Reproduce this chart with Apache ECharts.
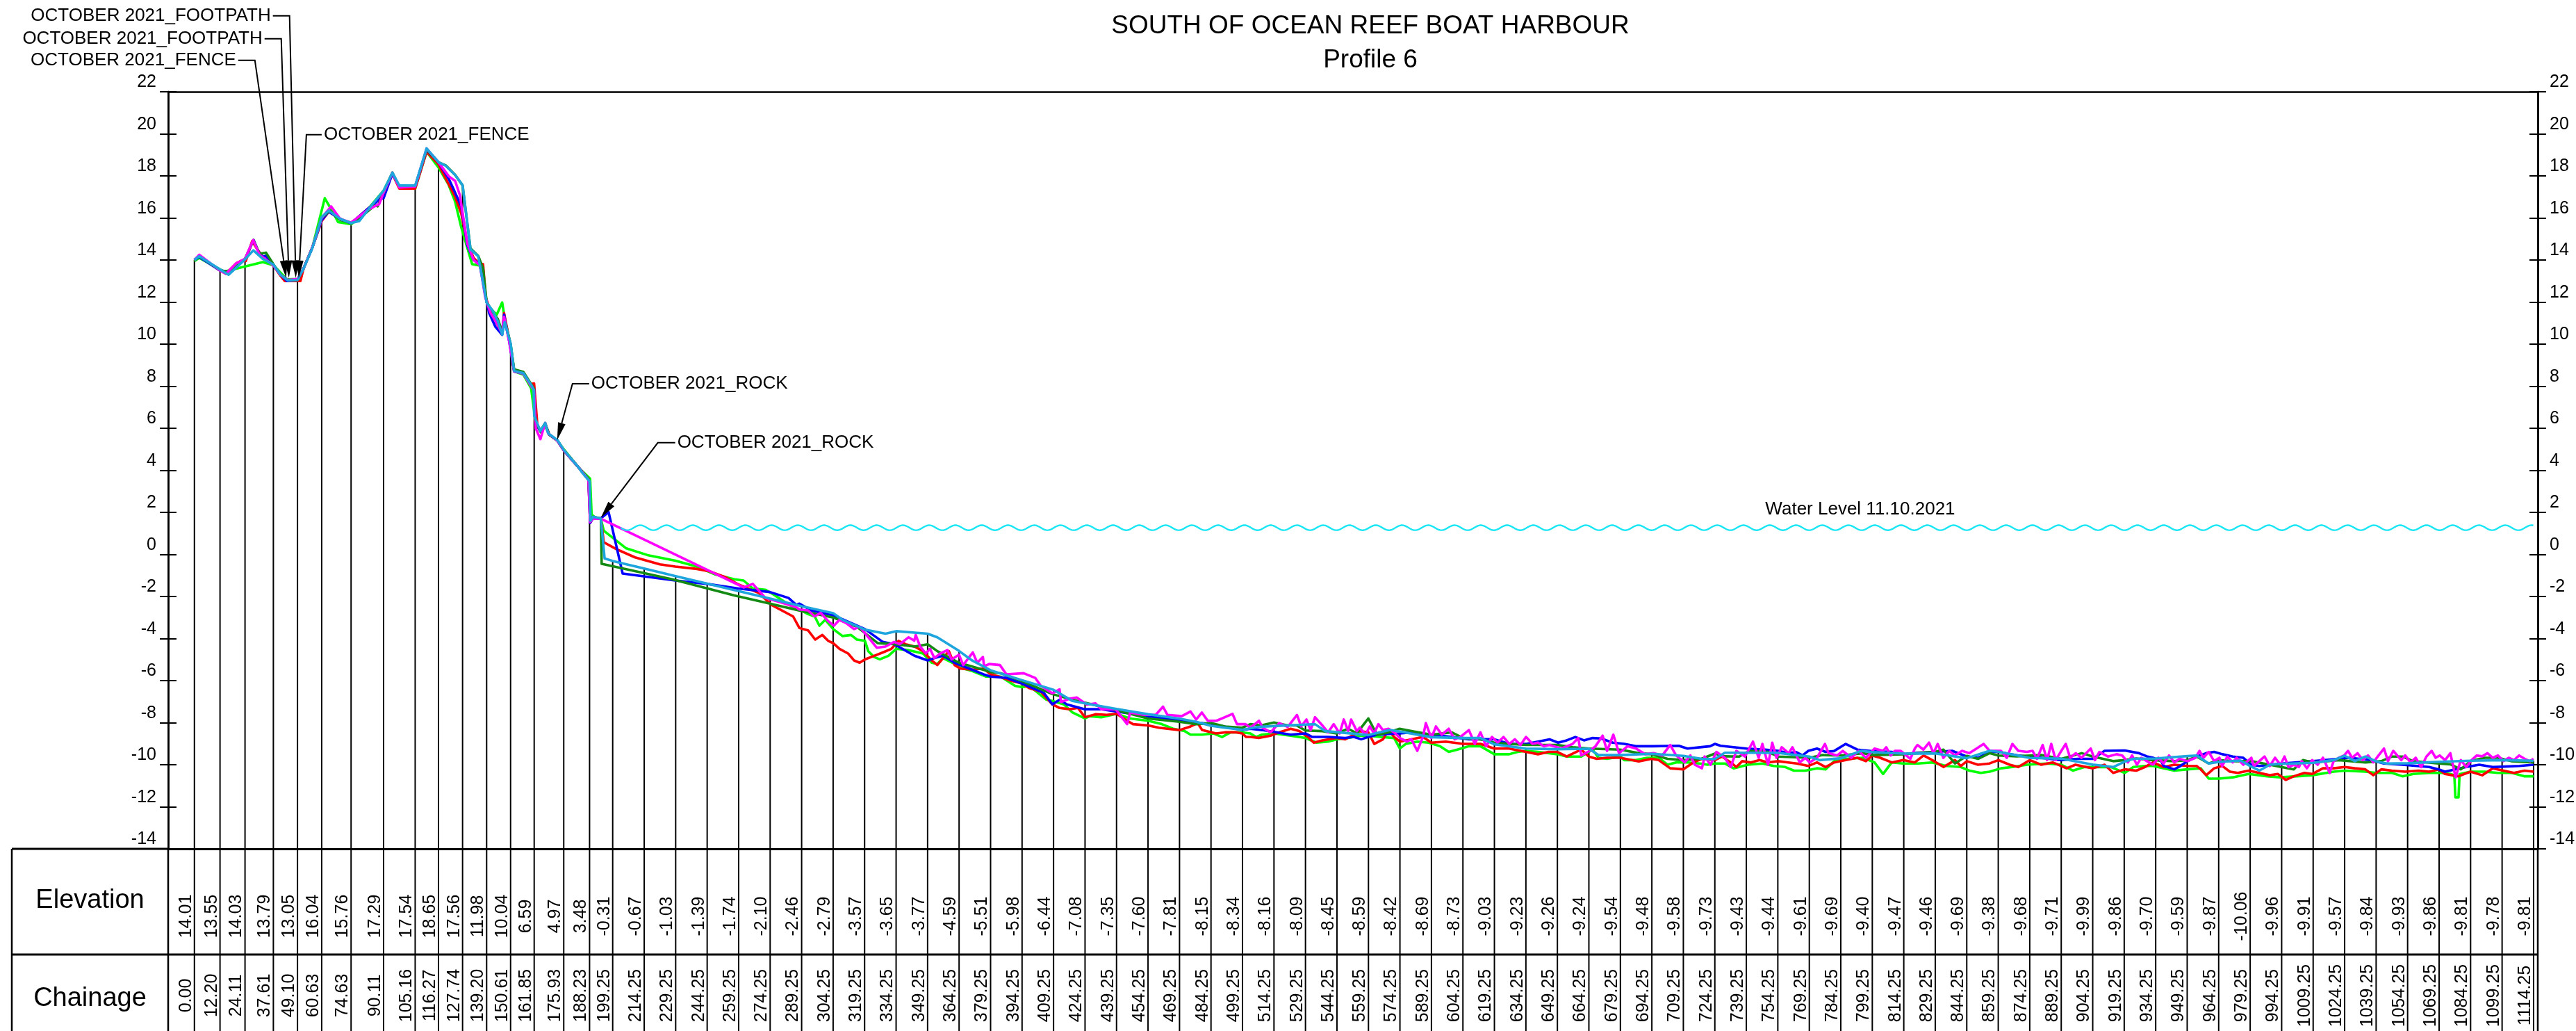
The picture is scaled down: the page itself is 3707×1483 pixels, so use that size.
<!DOCTYPE html>
<html><head><meta charset="utf-8">
<script src="https://cdn.jsdelivr.net/npm/echarts/dist/echarts.min.js"></script>
<style>html,body{margin:0;padding:0;background:#fff}#c{width:3707px;height:1483px}</style>
</head><body><div id="c"></div>
<script>
const FONT = "'Liberation Sans', Arial, Helvetica, sans-serif";
const titleText = 'SOUTH OF OCEAN REEF BOAT HARBOUR';
const subtitleText = 'Profile 6';
const rowLabels = ['Elevation', 'Chainage'];

const stationChainage = [0.00,12.20,24.11,37.61,49.10,60.63,74.63,90.11,105.16,116.27,127.74,139.20,150.61,161.85,175.93,188.23,
199.25,214.25,229.25,244.25,259.25,274.25,289.25,304.25,319.25,334.25,349.25,364.25,379.25,394.25,409.25,424.25,439.25,454.25,469.25,484.25,499.25,
514.25,529.25,544.25,559.25,574.25,589.25,604.25,619.25,634.25,649.25,664.25,679.25,694.25,709.25,724.25,739.25,754.25,769.25,784.25,799.25,
814.25,829.25,844.25,859.25,874.25,889.25,904.25,919.25,934.25,949.25,964.25,979.25,994.25,1009.25,1024.25,1039.25,1054.25,1069.25,1084.25,1099.25,1114.25];
const stationElevation = [14.01,13.55,14.03,13.79,13.05,16.04,15.76,17.29,17.54,18.65,17.56,11.98,10.04,6.59,4.97,3.48,
-0.31,-0.67,-1.03,-1.39,-1.74,-2.10,-2.46,-2.79,-3.57,-3.65,-3.77,-4.59,-5.51,-5.98,-6.44,-7.08,-7.35,-7.60,-7.81,-8.15,-8.34,
-8.16,-8.09,-8.45,-8.59,-8.42,-8.69,-8.73,-9.03,-9.23,-9.26,-9.24,-9.54,-9.48,-9.58,-9.73,-9.43,-9.44,-9.61,-9.69,-9.40,
-9.47,-9.46,-9.69,-9.38,-9.68,-9.71,-9.99,-9.86,-9.70,-9.59,-9.87,-10.06,-9.96,-9.91,-9.57,-9.84,-9.93,-9.86,-9.81,-9.78,-9.81];

const surveyLightBlue = [[0,14.01],[2.3,14.18],[12.2,13.55],[16.3,13.3],[24.11,14.03],[28.1,14.46],[32.6,14.05],[37.61,13.79],[41,13.3],[44.5,13.03],[49.1,13.05],[52,13.6],[56.2,14.57],[60.63,16.04],[64,16.35],[69.5,15.95],[74.63,15.76],[78.5,15.85],[82.8,16.4],[90.11,17.29],[94.3,18.15],[97.6,17.54],[105.16,17.54],[110.6,19.31],[116.27,18.65],[119.7,18.48],[124.2,18.04],[127.74,17.56],[131.5,14.51],[135.2,14.18],[139.2,11.98],[142,11.6],[144.5,11.1],[146.6,10.45],[147.8,11.04],[150.61,10.04],[152.3,8.73],[156.7,8.62],[160.4,8.07],[161.6,7.85],[161.85,6.59],[164.8,5.87],[167.1,6.25],[168.5,5.76],[173,5.43],[175.93,4.97],[183.3,4.1],[184.8,3.88],[188.23,3.48],[188.7,1.6],[190,1.79],[193.6,1.7],[195.4,-0.19],[199.25,-0.31],[214.25,-0.67],[229.25,-1.03],[244.25,-1.39],[259.25,-1.74],[274.25,-2.10],[289.25,-2.46],[304.25,-2.79],[308.7,-3.11],[319.25,-3.57],[329.2,-3.77],[334.25,-3.65],[349.25,-3.77],[353.9,-3.94],[364.25,-4.59],[370.4,-5.04],[379.25,-5.51],[394.25,-5.98],[409.25,-6.44],[418.3,-6.97],[424.25,-7.08],[439.25,-7.35],[454.25,-7.60],[469.25,-7.81],[477.2,-7.96],[484.25,-8.15],[490.9,-8.24],[499.25,-8.34],[507,-8.2],[514.25,-8.16],[529.25,-8.09],[533.8,-8.07],[538.6,-8.40],[544.25,-8.45],[559.25,-8.59],[569.5,-8.35],[574.25,-8.42],[589.25,-8.69],[604.25,-8.73],[612.6,-8.73],[619.25,-9.03],[634.25,-9.23],[649.25,-9.26],[664.25,-9.24],[668.8,-9.54],[679.25,-9.54],[694.25,-9.48],[709.25,-9.58],[718,-9.72],[724.25,-9.73],[729,-9.43],[739.25,-9.43],[754.25,-9.44],[769.25,-9.61],[774.2,-9.78],[784.25,-9.69],[794.1,-9.34],[799.25,-9.40],[814.25,-9.47],[829.25,-9.46],[844.25,-9.69],[855.1,-9.34],[859.25,-9.38],[874.25,-9.68],[889.25,-9.71],[904.25,-9.99],[914,-10.11],[919.25,-9.86],[923.5,-9.72],[934.25,-9.70],[949.25,-9.59],[953.8,-9.56],[959.5,-9.94],[964.25,-9.87],[974.7,-9.8],[979.25,-10.06],[983.6,-10.28],[988.6,-10.0],[994.25,-9.96],[1009.25,-9.91],[1019,-9.78],[1024.25,-9.57],[1029.1,-9.83],[1034.1,-9.61],[1039.25,-9.84],[1044.2,-9.94],[1054.25,-9.93],[1069.25,-9.86],[1084.25,-9.81],[1099.25,-9.78],[1114.25,-9.81]];

const surveyBlue = [[0,14.0],[2.3,14.15],[12.2,13.5],[16,13.45],[24.11,14.05],[28.2,14.95],[30.5,14.4],[32.6,14.15],[34,14.2],[37.61,13.75],[41,13.3],[44.1,13.0],[49.1,13.05],[52,13.6],[56.2,14.6],[60.63,15.9],[64,16.3],[69.5,15.95],[74.63,15.75],[82.8,16.45],[88.5,16.9],[90.11,16.94],[94.3,18.1],[97.6,17.5],[105.16,17.5],[110.6,19.25],[116.27,18.65],[121.2,17.85],[123.4,17.38],[127.1,16.55],[130,14.7],[133,14.0],[136,13.8],[138.6,12.3],[140.4,11.48],[143.4,10.82],[146.6,10.44],[147.5,11.4],[150,10.1],[152.3,8.7],[156.7,8.6],[160.4,8.05],[161.8,7.85],[162.6,6.2],[165,5.85],[167.1,6.2],[169,5.7],[173,5.4],[175.93,4.95],[183.3,4.1],[187.7,3.55],[188.5,1.5],[190,1.75],[193.6,1.72],[197.3,2.01],[204,-0.91],[229.1,-1.24],[244.2,-1.4],[259.1,-1.62],[274.2,-1.79],[283,-2.07],[286.7,-2.4],[288.2,-2.34],[294,-2.67],[304.3,-2.89],[319.4,-3.55],[327.9,-4.16],[333.4,-4.27],[343,-4.82],[349.3,-5.04],[352.5,-4.93],[356.6,-4.82],[362.1,-5.15],[370.4,-5.48],[375.9,-5.7],[379.3,-5.81],[386.8,-5.87],[394.3,-6.14],[404.6,-6.58],[408.7,-7.13],[412.1,-6.91],[415.6,-7.13],[424.2,-7.36],[432,-7.36],[439.3,-7.47],[454.3,-7.69],[469.3,-7.91],[484.3,-8.07],[499.1,-8.35],[503,-8.29],[508.5,-8.35],[514.25,-8.44],[522.2,-8.57],[529.2,-8.51],[532.5,-8.68],[540,-8.68],[548.2,-8.73],[552.3,-8.68],[555.8,-8.79],[559.2,-8.68],[563.3,-8.57],[574.2,-8.51],[579.7,-8.46],[589.2,-8.57],[598.9,-8.68],[607.1,-8.79],[619.2,-8.79],[626.3,-9.01],[634.5,-9.01],[640,-8.9],[645.5,-8.79],[649.6,-8.95],[653.7,-8.84],[657.8,-8.68],[661.9,-8.84],[666,-8.73],[670.1,-8.75],[675.6,-8.95],[681.1,-9.01],[686.6,-9.12],[694.8,-9.12],[707.1,-9.1],[711.2,-9.23],[718,-9.16],[722,-9.12],[724.25,-9.01],[727,-9.1],[739.3,-9.23],[748.2,-9.28],[754.4,-9.34],[759.2,-9.45],[763,-9.4],[766,-9.56],[768.8,-9.34],[772.9,-9.23],[777,-9.39],[781,-9.35],[786.6,-9.01],[792.1,-9.28],[799.3,-9.36],[808.5,-9.39],[814.4,-9.5],[821,-9.43],[829.3,-9.39],[837.3,-9.34],[844.3,-9.61],[849.6,-9.67],[855.1,-9.39],[859.3,-9.39],[868.8,-9.56],[874.3,-9.61],[889.3,-9.78],[897,-9.72],[904.3,-9.72],[909.9,-9.34],[919.5,-9.32],[926.3,-9.45],[930,-9.6],[933,-9.67],[936.8,-9.83],[938.1,-10.06],[943.1,-10.22],[946,-10.06],[949.4,-9.83],[953.8,-9.61],[958.3,-9.45],[962.1,-9.39],[966,-9.5],[971,-9.61],[976,-9.67],[979.8,-10.0],[983.6,-10.06],[994.3,-9.94],[1009.2,-9.83],[1021.5,-9.72],[1026.6,-9.67],[1036.7,-9.78],[1043,-9.94],[1051.8,-10.0],[1064.5,-10.11],[1069.1,-10.22],[1072,-10.33],[1082.1,-10.11],[1088.4,-10.0],[1094.8,-10.11],[1107.5,-10.06],[1114.25,-10.0]];

const surveyDarkGreen = [[0,14.0],[2.3,14.2],[12.2,13.5],[16,13.45],[24.11,14.05],[28.1,14.95],[31,14.3],[34.1,14.35],[37.61,13.8],[41,13.3],[44.5,13.05],[49.1,13.05],[52,13.6],[56.2,14.6],[60.63,16.0],[64.5,16.35],[69.5,15.9],[74.63,15.78],[80,16.1],[86,16.6],[87.3,16.55],[90.11,17.2],[94.3,18.15],[97.6,17.5],[105.16,17.5],[110.6,19.25],[116.27,18.65],[119.7,18.5],[124.2,18.05],[127.74,17.55],[131.5,14.55],[135.2,14.2],[137.5,13.6],[139.2,12.0],[140.4,11.7],[144.5,11.2],[146.6,10.6],[148,11.1],[150.61,10.0],[152.3,8.8],[156.7,8.68],[160.4,8.1],[161.8,7.85],[162.6,6.2],[165,5.9],[167.1,6.25],[169,5.7],[173,5.4],[175.93,4.95],[183.3,4.1],[187.7,3.6],[188.6,1.7],[190,1.79],[193.6,1.7],[194,-0.45],[227.6,-1.18],[257.2,-1.95],[272,-2.29],[288.2,-2.67],[304.3,-3.0],[315.6,-3.44],[325.5,-4.22],[334.3,-4.27],[343,-4.38],[349.3,-4.27],[353.9,-4.6],[364.2,-5.15],[379.3,-5.59],[384.1,-5.65],[394.3,-6.03],[408.7,-6.64],[418.3,-6.91],[439.3,-7.41],[454.3,-7.8],[469.3,-7.96],[477.2,-8.07],[484.3,-8.02],[490.9,-8.18],[499.1,-8.24],[503,-8.07],[508,-8.13],[514.25,-7.99],[520.8,-8.13],[525,-8.13],[529.2,-8.37],[537.3,-8.4],[544.1,-8.51],[549.6,-8.29],[553.7,-8.51],[559.2,-7.8],[563.3,-8.57],[568.8,-8.46],[574.1,-8.29],[579.7,-8.4],[589.2,-8.57],[598.9,-8.46],[604.3,-8.73],[612.6,-8.79],[619.2,-8.95],[626.3,-9.01],[634.3,-9.06],[649.2,-9.06],[656.5,-9.17],[664.2,-9.23],[679.2,-9.28],[688,-9.45],[694.1,-9.5],[701.7,-9.72],[709.2,-9.78],[717.9,-9.72],[724.25,-9.47],[729,-9.6],[735.9,-9.61],[740.6,-9.34],[749.6,-9.39],[754.4,-9.61],[769.3,-9.67],[775.6,-9.54],[784.4,-9.56],[794.8,-9.45],[799.3,-9.54],[814.4,-9.5],[829.3,-9.39],[833.1,-9.28],[838.6,-9.94],[844.3,-9.58],[849.6,-9.72],[855.1,-9.45],[859.3,-9.56],[868,-9.6],[879.7,-9.54],[889.3,-9.72],[899,-9.45],[904.3,-9.61],[914,-9.83],[919.3,-9.78],[925,-9.7],[933,-9.78],[943.1,-9.83],[949.4,-9.78],[953.8,-9.61],[959.5,-9.94],[964.3,-9.78],[971,-9.83],[979.8,-9.83],[988.6,-10.0],[1000,-10.22],[1004.4,-9.78],[1009.2,-9.89],[1021.5,-9.78],[1034.1,-9.89],[1041.7,-9.83],[1046.8,-9.61],[1051.8,-9.61],[1056.9,-9.83],[1069.1,-9.94],[1074.6,-9.98],[1079.6,-10.22],[1084.2,-9.83],[1091,-9.67],[1097.3,-9.67],[1103.6,-9.83],[1114.25,-9.89]];

const surveyMagenta = [[0,14.0],[2.3,14.25],[12.2,13.5],[15,13.35],[20,13.85],[24.11,14.05],[28,14.95],[31,14.25],[33,14.1],[37.61,13.75],[41,13.3],[44.5,13.05],[49.1,13.1],[52,13.6],[56.2,14.6],[60.63,16.0],[65.1,16.55],[69.5,15.95],[74.63,15.78],[82.8,16.4],[88,16.66],[90.11,17.2],[94.3,18.15],[97.6,17.45],[105.16,17.5],[110.6,19.3],[116.27,18.65],[121.2,17.98],[124.2,17.76],[126.4,17.1],[130,14.79],[133,14.0],[136,13.75],[138.6,12.2],[141,11.5],[144,11.0],[146.6,10.5],[147.5,11.3],[150,10.1],[152.3,8.7],[156.7,8.6],[160.4,8.0],[161.8,7.8],[162.6,6.0],[164.8,5.48],[167.1,6.25],[168.5,5.76],[173,5.4],[175.93,4.95],[183.3,4.1],[187.7,3.55],[188.5,1.55],[190,1.7],[193.6,1.7],[261.6,-1.57],[266,-1.4],[272,-2.07],[280,-2.3],[286.7,-2.51],[288.2,-2.62],[292.3,-2.66],[295.4,-2.95],[298.3,-2.78],[301.9,-3.17],[304.6,-3.39],[307.3,-3.11],[310.7,-3.28],[314.2,-3.55],[316.9,-3.44],[321,-3.94],[325.1,-4.44],[329.2,-4.38],[333.3,-4.16],[336,-4.27],[340.2,-3.94],[342.9,-4.1],[343.6,-3.83],[345.7,-4.38],[348.4,-4.71],[350.4,-4.49],[352.5,-4.93],[355.3,-4.71],[358.7,-4.55],[360.7,-4.99],[364.2,-4.77],[366.2,-5.26],[370.8,-4.66],[372.9,-5.15],[375.6,-4.88],[376.2,-5.32],[378.6,-5.21],[383.7,-5.26],[386.8,-5.7],[395,-5.65],[400.5,-5.87],[403.2,-6.25],[408.7,-6.6],[412.1,-6.42],[412.8,-7.02],[416.9,-6.86],[420.3,-6.8],[425.1,-7.14],[429.2,-7.08],[432,-7.36],[438.8,-7.36],[444.3,-8.07],[445.7,-7.52],[452.5,-7.63],[457.9,-7.63],[461.4,-7.24],[463.5,-7.63],[470.3,-7.69],[474.5,-7.47],[477.2,-7.85],[479.9,-7.52],[482.7,-7.91],[486.8,-7.91],[489.5,-7.8],[494.5,-7.58],[496.6,-8.07],[500.7,-8.07],[503,-8.24],[507.1,-7.91],[509,-8.25],[512.6,-8.46],[516.7,-8.02],[520.8,-8.2],[525.2,-7.63],[527.2,-8.18],[529.7,-7.85],[531.7,-8.35],[533.8,-7.74],[537.3,-8.13],[540,-8.46],[542.7,-8.07],[545.5,-8.51],[547.5,-7.85],[549.6,-8.4],[551,-7.85],[553.7,-8.4],[555.1,-8.24],[557.8,-8.57],[559.9,-8.18],[561.9,-8.51],[564,-8.07],[566.1,-8.35],[568.8,-8.29],[571.5,-8.46],[574.2,-8.73],[577.6,-8.9],[579.7,-8.79],[582.5,-9.34],[585.2,-8.68],[586.6,-8.02],[589.2,-8.73],[591.4,-8.18],[594.2,-8.57],[597.5,-8.29],[600.3,-8.79],[603,-8.68],[607.1,-8.35],[609.9,-9.01],[612.6,-8.46],[615.3,-9.12],[618.1,-8.68],[620.8,-8.95],[623.6,-8.68],[626.3,-9.01],[629,-8.79],[631.7,-9.06],[634.3,-8.68],[637.4,-9.01],[640,-8.95],[642.8,-9.12],[645.5,-9.06],[651,-9.23],[656.5,-9.01],[659.2,-8.73],[660.6,-9.56],[664.7,-9.34],[667.4,-9.12],[670.8,-8.62],[672.9,-9.34],[675.9,-8.57],[678.6,-9.45],[682.7,-9.12],[686.8,-9.23],[691,-9.5],[695.1,-9.45],[699.2,-9.56],[703,-9.06],[705.8,-9.56],[709.9,-9.89],[712.6,-9.56],[714.7,-10.0],[718.1,-10.17],[719.4,-9.61],[722.2,-10.0],[725,-9.39],[729,-9.67],[731.8,-10.11],[734.5,-9.34],[738.6,-9.61],[742.4,-8.9],[745.1,-9.67],[746.9,-9.01],[749.6,-10.0],[751.6,-8.95],[753.6,-9.67],[756.1,-9.17],[759.4,-9.45],[761.2,-9.17],[764.7,-9.89],[767.4,-9.67],[769.4,-9.89],[772.9,-9.67],[776.7,-9.01],[778.4,-9.45],[782.5,-9.56],[785.2,-9.34],[789.3,-9.67],[792.7,-9.34],[796.2,-9.67],[800.3,-9.23],[804.4,-9.34],[805.9,-9.17],[808,-9.56],[810,-9.34],[812.8,-9.34],[817.4,-9.72],[819.5,-9.23],[820.8,-9.06],[823.6,-9.28],[826.3,-8.95],[828.4,-9.45],[830.4,-9.01],[833.1,-9.67],[835.9,-9.34],[838.6,-9.56],[842,-9.34],[845.5,-9.45],[848.9,-9.23],[852.3,-9.01],[855.1,-9.34],[860.6,-9.34],[863.3,-9.67],[866,-9.01],[868.8,-9.34],[872.9,-9.39],[875.6,-9.34],[877.7,-9.72],[880.4,-9.06],[882.5,-9.78],[884.5,-9.01],[886.6,-9.78],[889.3,-9.34],[891.4,-9.01],[893.5,-9.67],[896.2,-9.45],[898.9,-9.67],[903.3,-9.23],[905.3,-9.78],[907.4,-9.39],[911.5,-9.61],[915.6,-9.5],[918.3,-9.56],[921,-9.89],[923,-9.56],[925.3,-10.0],[927.4,-9.67],[930.1,-9.83],[932.9,-10.0],[935.5,-9.67],[938,-9.94],[940.6,-9.56],[943.1,-9.89],[945.6,-9.72],[949.4,-9.83],[953.2,-9.67],[955.1,-9.34],[957,-9.67],[959.5,-9.39],[962.1,-9.83],[964.6,-9.67],[965.9,-10.06],[968.4,-9.61],[970.9,-9.89],[972.8,-9.67],[976,-10.0],[979.8,-9.67],[981,-10.06],[983.6,-9.83],[986.1,-9.61],[988.6,-10.06],[991.1,-9.67],[993.7,-10.0],[995.6,-9.61],[997.5,-10.11],[1000,-10.0],[1002.5,-10.11],[1003.8,-9.83],[1006.3,-10.17],[1008.8,-9.78],[1011.4,-10.0],[1013.9,-9.67],[1015.2,-9.94],[1017.1,-10.39],[1019,-9.83],[1021.5,-9.67],[1024,-9.56],[1025.9,-9.34],[1027.8,-9.67],[1030.4,-9.45],[1032.9,-9.78],[1035.4,-9.56],[1037.9,-9.89],[1040.4,-9.56],[1043,-9.23],[1044.9,-9.83],[1047.4,-9.34],[1049.3,-9.56],[1051.2,-9.78],[1053.1,-9.56],[1055.6,-9.89],[1058.1,-9.67],[1060.7,-10.11],[1063.2,-9.61],[1065.7,-9.34],[1067.6,-9.67],[1069.5,-9.56],[1072.1,-9.78],[1074.6,-9.45],[1077.1,-10.6],[1079.6,-9.78],[1082.2,-10.11],[1084.7,-9.78],[1087.2,-9.56],[1089.8,-9.6],[1092.3,-9.45],[1094.8,-9.67],[1097.3,-9.56],[1099.9,-9.83],[1102.4,-9.67],[1104.9,-9.78],[1107.4,-9.56],[1110,-9.72],[1112.5,-9.83],[1114.25,-9.72]];

const surveyLime = [[0,13.95],[2.3,14.1],[14.1,13.45],[32.6,13.9],[37.61,13.75],[44.1,13.08],[49.1,13.1],[52,13.6],[56.2,14.6],[62.1,16.94],[65.5,16.35],[68.5,15.8],[74.63,15.7],[80,16.1],[85,16.7],[90.11,17.3],[94.3,18.15],[97.6,17.45],[105.16,17.4],[110.6,19.15],[116.27,18.4],[121,17.6],[124.2,16.77],[127.1,15.56],[132.3,13.8],[135.9,13.74],[137.5,13.2],[139.2,12.0],[141,11.7],[144,11.4],[146.6,11.98],[148.5,10.8],[150.61,10.0],[152.3,8.7],[156.7,8.55],[160.4,7.9],[162.5,6.3],[165,5.8],[167.1,6.1],[169,5.7],[173,5.4],[175.93,5.0],[183.3,4.1],[188.5,3.6],[189.2,1.9],[191,1.75],[193.6,1.7],[195,1.13],[205.5,0.3],[215.8,-0.03],[229.1,-0.3],[239.4,-0.58],[248.3,-0.96],[257.2,-1.18],[261.6,-1.24],[266,-1.62],[272,-1.68],[275,-1.85],[286.7,-2.62],[288.2,-2.62],[292.3,-2.84],[295.5,-2.95],[297.7,-3.39],[300.5,-3.11],[304.3,-3.55],[308.7,-3.88],[312.8,-3.83],[315.6,-4.05],[319.4,-4.11],[321,-4.6],[323.8,-4.88],[326.5,-4.99],[330.6,-4.82],[334.3,-4.49],[340.2,-4.55],[347.1,-4.71],[351.2,-5.15],[353.9,-5.21],[356.6,-4.93],[362.1,-5.2],[364.2,-5.37],[370.4,-5.54],[377.2,-5.81],[384.1,-5.81],[390.9,-6.25],[394.3,-6.31],[397.7,-6.25],[405.9,-6.91],[408.7,-6.97],[414.2,-7.13],[418.3,-7.52],[424.2,-7.8],[426.5,-7.69],[432,-7.74],[439.3,-7.58],[445.7,-7.8],[454.3,-7.91],[460.8,-8.07],[466.2,-8.29],[471.7,-8.4],[474.5,-8.57],[480,-8.57],[485.3,-8.51],[489.5,-8.68],[493.6,-8.46],[499.1,-8.46],[503,-8.51],[505.7,-8.68],[508.5,-8.57],[514.25,-8.51],[522.2,-8.62],[529.2,-8.73],[534.5,-8.95],[540,-8.9],[544.1,-8.79],[549.6,-8.73],[555.1,-8.62],[559.2,-8.62],[565,-8.68],[571.5,-8.73],[574.2,-9.23],[577,-9.01],[582.5,-8.9],[587.9,-8.95],[593.4,-9.12],[597.5,-9.39],[601.6,-9.28],[607.1,-9.12],[612.6,-9.12],[619.2,-9.5],[626.3,-9.5],[630.4,-9.39],[634.3,-9.34],[640,-9.39],[649.2,-9.5],[653.7,-9.61],[660.6,-9.61],[666,-9.28],[668.8,-9.67],[672.9,-9.72],[679.2,-9.61],[681.1,-9.78],[686.6,-9.78],[692,-9.67],[697.5,-9.67],[701.7,-10.0],[705.8,-9.89],[711.2,-9.89],[717.9,-9.95],[720.8,-10.0],[724.25,-9.94],[729,-9.94],[733.2,-10.17],[740,-10.0],[746.9,-9.94],[752.3,-10.06],[757.8,-10.11],[761.9,-10.28],[767.4,-10.28],[772.9,-10.17],[777,-10.22],[781.1,-9.83],[786.6,-9.72],[794.8,-9.67],[800.3,-9.89],[804.4,-10.44],[808.5,-9.89],[814,-9.94],[821,-9.94],[827.7,-9.89],[834.5,-10.06],[841.4,-10.11],[845.5,-10.28],[850.9,-10.39],[855.1,-10.33],[860.6,-10.17],[866,-10.11],[872.9,-10.0],[882.5,-9.94],[889.3,-10.0],[894.8,-10.28],[900.3,-10.11],[907.1,-10.11],[913,-10.11],[919.5,-10.39],[923.6,-10.11],[929,-10.06],[933,-10.06],[943.1,-10.28],[949.4,-10.22],[955.7,-10.17],[959.5,-10.66],[964.3,-10.66],[971,-10.6],[978.5,-10.44],[987.3,-10.55],[993.7,-10.6],[1001.3,-10.55],[1008.8,-10.5],[1019,-10.33],[1024.3,-10.28],[1034.1,-10.33],[1039.2,-10.39],[1046.8,-10.39],[1051.8,-10.55],[1057,-10.44],[1064.5,-10.39],[1070.6,-10.39],[1074.6,-10.44],[1076.5,-10.5],[1077,-11.55],[1078.5,-11.55],[1079,-10.45],[1084.2,-10.33],[1091,-10.33],[1097.3,-10.39],[1104,-10.39],[1110,-10.55],[1114.25,-10.55]];

const surveyRed = [[0,14.0],[2.3,14.2],[12.2,13.5],[15,13.35],[20,13.85],[23,14.0],[24.5,13.95],[27.5,14.9],[30,14.5],[33,14.1],[37.61,13.75],[41,13.25],[43,13.0],[49.1,13.0],[50.5,13.0],[52,13.6],[56.2,14.6],[60.63,15.85],[64,16.3],[69.5,15.95],[74.63,15.75],[82.8,16.45],[88,16.9],[90.11,17.2],[94.3,18.1],[97.6,17.4],[105.16,17.4],[110.6,19.15],[116.27,18.55],[124.2,17.0],[127.1,16.22],[130,14.8],[133,14.1],[135.5,13.85],[137.5,13.8],[138.8,12.2],[141,11.6],[144,11.0],[146.5,10.45],[147.5,11.48],[150,10.2],[152.3,8.73],[156.7,8.62],[160,8.1],[161.8,8.13],[163.4,6.1],[165,5.85],[167.1,6.2],[169,5.7],[173,5.4],[175.93,4.95],[183.3,4.1],[187.7,3.55],[188.5,1.5],[190,1.75],[193.6,1.7],[195,0.58],[201,0.25],[209.9,-0.14],[221.7,-0.47],[229.1,-0.58],[239.4,-0.69],[245.3,-0.8],[252.7,-1.07],[258.6,-1.4],[269,-1.84],[274.9,-2.4],[285.2,-2.95],[288.2,-3.5],[292.3,-3.61],[295.7,-4.05],[299.1,-3.83],[301.9,-4.11],[304.3,-4.22],[307.3,-4.49],[311.4,-4.71],[314.2,-5.04],[316.9,-5.15],[319.4,-4.99],[323.8,-4.82],[327.9,-4.66],[332,-4.49],[335.4,-4.11],[338.8,-4.27],[343,-4.38],[347.1,-4.6],[351.2,-5.04],[353.9,-5.26],[356.6,-4.93],[359.4,-4.6],[362.1,-5.26],[364.9,-5.43],[370.4,-5.48],[375.9,-5.43],[379.3,-5.7],[383,-5.8],[388.2,-5.98],[394.3,-6.14],[397.7,-6.36],[403.2,-6.53],[408.7,-7.13],[412.1,-7.3],[416.9,-7.36],[420.9,-7.3],[424.2,-7.74],[429.2,-7.6],[434.6,-7.63],[439.3,-7.58],[444.3,-7.91],[447.1,-8.07],[454.3,-8.13],[459.4,-8.24],[463.5,-8.29],[469.3,-8.35],[474.5,-8.18],[477.9,-8.02],[480,-8.35],[486.6,-8.51],[490.9,-8.46],[496.3,-8.46],[499.1,-8.51],[501,-8.68],[503,-8.68],[507,-8.73],[512.6,-8.62],[516.7,-8.46],[522.2,-8.29],[526.3,-8.4],[530.4,-8.68],[533.2,-8.95],[537.3,-8.84],[544.1,-8.73],[548.2,-8.79],[552.3,-8.57],[555.1,-8.4],[559.2,-8.46],[562,-9.01],[566.2,-8.79],[568.8,-8.35],[571.5,-8.68],[574.2,-8.9],[579.7,-8.79],[585.2,-8.68],[589.2,-8.95],[596.1,-8.9],[604.3,-9.01],[612.6,-9.01],[619.2,-9.23],[626.3,-9.23],[634.3,-9.39],[640,-9.5],[645,-9.39],[649.2,-9.39],[653.7,-9.61],[660.6,-9.28],[664.2,-9.61],[668,-9.72],[673,-9.67],[679.2,-9.67],[688,-9.84],[694.1,-9.72],[697.5,-9.78],[703,-10.17],[709.2,-10.22],[714,-9.89],[718,-9.72],[724.25,-9.78],[727.7,-9.61],[731.8,-9.89],[734.5,-10.11],[737.3,-9.83],[741.4,-9.89],[745.5,-9.78],[749.6,-9.89],[754.4,-9.83],[759.2,-9.89],[763.3,-9.94],[768.8,-10.06],[772.9,-9.89],[777,-10.11],[781.1,-9.89],[786.6,-9.78],[792.1,-9.67],[796.2,-9.83],[799.3,-9.56],[803,-9.67],[808.5,-9.89],[814,-9.78],[819.5,-9.89],[823.7,-9.56],[827.8,-9.78],[833.2,-10.11],[838.6,-9.78],[841.4,-10.06],[844.3,-9.83],[849.6,-10.0],[855.1,-9.94],[859.3,-9.78],[864.7,-10.0],[868.8,-10.11],[874.3,-9.78],[879.7,-10.0],[885.2,-9.89],[891.8,-10.17],[896,-10.0],[904.3,-10.17],[909.9,-10.0],[914,-10.39],[919.5,-10.22],[925,-10.28],[929.1,-10.11],[933,-9.89],[935.5,-10.0],[938,-10.11],[943.1,-10.0],[949.4,-10.06],[953.8,-10.06],[955.7,-10.22],[958.3,-10.5],[962.1,-10.17],[966,-10.06],[969.6,-10.33],[973.4,-10.39],[978.5,-10.28],[983.6,-10.39],[988.6,-10.5],[992.4,-10.44],[996.2,-10.72],[1000,-10.55],[1005.1,-10.39],[1008.8,-10.44],[1013.9,-10.17],[1019,-10.17],[1024.3,-10.11],[1029.1,-10.17],[1034.1,-10.22],[1037.9,-10.5],[1041.7,-10.22],[1046.8,-10.28],[1053.1,-10.33],[1059.4,-10.28],[1064.5,-10.33],[1069.1,-10.22],[1072,-10.44],[1078.4,-10.55],[1084.2,-10.33],[1089.8,-10.5],[1094.8,-10.17],[1099.9,-10.28],[1104.9,-10.39],[1110,-10.28],[1114.25,-10.33]];

const waterLevel = 1.27;
const waterFrom = 203;
const waterTo = 1114.25;
const waterLabel = 'Water Level 11.10.2021';

const annotLabels = ['OCTOBER 2021_FOOTPATH','OCTOBER 2021_FOOTPATH','OCTOBER 2021_FENCE','OCTOBER 2021_FENCE','OCTOBER 2021_ROCK','OCTOBER 2021_ROCK'];
const annotChainage = [48.3, 45.0, 43.7, 49.7, 172.8, 193.6];
const annotElevation = [13.15, 13.15, 13.15, 13.15, 5.44, 1.74];

/* ---------- layout (pixels) ---------- */
const W = 3707, H = 1483;
const GRID = {left: 242, right: 55, top: 132, bottom: 262};
const X_MIN = -12.5, X_MAX = 1116.25;
const TABLE = {left: 17, top: 1221, mid: 1373, bottom: H, elevTextY: 1318, chainTextY: 1432, textDx: -12};
const annotLayout = [
  {elbow:[-9,-377], text:[-36,-377], align:'right'},
  {elbow:[-11,-344], text:[-38,-344], align:'right'},
  {elbow:[-45,-313], text:[-72,-313], align:'right'},
  {elbow:[11,-206], text:[36,-206], align:'left'},
  {elbow:[22,-81], text:[49,-81], align:'left'},
  {elbow:[82,-108], text:[110,-108], align:'left'}
];
const waterLabelChainage = 793.5;

const chart = echarts.init(document.getElementById('c'), null, {renderer: 'canvas'});

function lineSeries(name, data, color, z) {
  return {name, type:'line', data, showSymbol:false, symbol:'none', z, silent:true, animation:false,
    lineStyle:{color, width:3.6, join:'round'}};
}

const axisLineStyle = {color:'#000', width:2.5};
function yAx(pos, inside, labels) {
  return {type:'value', position:pos, min:-14, max:22, interval:2,
    axisLine:{show:true, onZero:false, lineStyle:axisLineStyle},
    axisTick:{show:true, inside, length:12, lineStyle:{color:'#000', width:2}},
    axisLabel:{show:labels, margin:17, color:'#000', fontSize:25, fontFamily:FONT, verticalAlign:'bottom',
      showMinLabel:true, showMaxLabel:true, padding:[0,0,1,0]},
    splitLine:{show:false}};
}
function xAx(pos) {
  return {type:'value', position:pos, min:X_MIN, max:X_MAX,
    axisLine:{show:true, onZero:false, lineStyle:{color:'#000', width: pos==='bottom'?3:2.5}},
    axisTick:{show:false}, axisLabel:{show:false}, splitLine:{show:false}};
}

const stationData = stationChainage.map((c,i)=>[c, stationElevation[i], i]);
const annotData = annotChainage.map((c,i)=>[c, annotElevation[i], i]);

const option = {
  backgroundColor:'#fff',
  animation:false,
  grid:{left:GRID.left, right:GRID.right, top:GRID.top, bottom:GRID.bottom, containLabel:false, outerBoundsMode:'none'},
  xAxis:[xAx('bottom'), xAx('top')],
  yAxis:[yAx('left', false, true), yAx('left', true, false), yAx('right', false, true), yAx('right', true, false)],
  series:[
    {type:'custom', name:'stations', data:stationData, clip:false, z:1, silent:true,
      renderItem:function(params, api){
        const i = api.value(2);
        const p = api.coord([api.value(0), api.value(1)]);
        const txt = (t, y) => ({type:'text', x:p[0]+TABLE.textDx, y, rotation:Math.PI/2,
          style:{text:t, x:0, y:0, fill:'#000', font:'25px '+FONT, align:'center', verticalAlign:'middle', textAlign:'center', textVerticalAlign:'middle'}});
        return {type:'group', children:[
          {type:'line', shape:{x1:p[0], y1:p[1], x2:p[0], y2:TABLE.bottom}, style:{stroke:'#000', lineWidth:2}},
          txt(stationElevation[i].toFixed(2), TABLE.elevTextY),
          txt(stationChainage[i].toFixed(2), TABLE.chainTextY)
        ]};
      }},
    lineSeries('Lime', surveyLime, '#00FF00', 2),
    lineSeries('Red', surveyRed, '#FF0000', 3),
    lineSeries('Blue', surveyBlue, '#0000FF', 4),
    lineSeries('Dark green', surveyDarkGreen, '#138A13', 5),
    lineSeries('Magenta', surveyMagenta, '#FF00FF', 6),
    lineSeries('Light blue', surveyLightBlue, '#1FA5DE', 7),
    {type:'custom', name:'water', data:[[waterFrom, waterLevel, waterTo]], clip:false, z:8, silent:true,
      renderItem:function(params, api){
        const a = api.coord([api.value(0), api.value(1)]);
        const b = api.coord([api.value(2), api.value(1)]);
        const amp = 3.6, wl = 37.8, pts = [];
        for (let x = a[0]; x <= b[0]; x += 1.5) pts.push([x, a[1] + amp*Math.sin(2*Math.PI*(x-a[0])/wl)]);
        const lp = api.coord([waterLabelChainage, api.value(1)]);
        return {type:'group', children:[
          {type:'polyline', shape:{points:pts}, style:{stroke:'#19E6F5', lineWidth:2.4, fill:null}},
          {type:'text', x:lp[0], y:lp[1]-26, style:{text:waterLabel, x:0, y:0, fill:'#000', font:'26px '+FONT, align:'center', verticalAlign:'middle', textAlign:'center', textVerticalAlign:'middle'}}
        ]};
      }},
    {type:'custom', name:'annotations', data:annotData, clip:false, z:9, silent:true,
      renderItem:function(params, api){
        const i = api.value(2);
        const L = annotLayout[i];
        const tip = api.coord([api.value(0), api.value(1)]);
        const el = [tip[0]+L.elbow[0], tip[1]+L.elbow[1]];
        const tx = [tip[0]+L.text[0], tip[1]+L.text[1]];
        const start = [tx[0] + (L.align==='right' ? 3 : -3), el[1]];
        let dx = tip[0]-el[0], dy = tip[1]-el[1];
        const len = Math.sqrt(dx*dx+dy*dy); dx/=len; dy/=len;
        const AL = 25, AW = 5.5;
        const base = [tip[0]-dx*AL, tip[1]-dy*AL];
        const n = [-dy, dx];
        return {type:'group', children:[
          {type:'polyline', shape:{points:[start, el, base]}, style:{stroke:'#000', lineWidth:2, fill:null}},
          {type:'polygon', shape:{points:[tip, [base[0]+n[0]*AW, base[1]+n[1]*AW], [base[0]-n[0]*AW, base[1]-n[1]*AW]]}, style:{fill:'#000'}},
          {type:'text', x:tx[0], y:tx[1], style:{text:annotLabels[i], x:0, y:0, fill:'#000', font:'26px '+FONT, align:L.align, verticalAlign:'middle', textAlign:L.align, textVerticalAlign:'middle'}}
        ]};
      }}
  ],
  graphic:[
    {type:'text', x:1972, y:38, style:{text:titleText, fill:'#000', font:'37px '+FONT, align:'center', verticalAlign:'middle', textAlign:'center', textVerticalAlign:'middle'}},
    {type:'text', x:1972, y:87, style:{text:subtitleText, fill:'#000', font:'37px '+FONT, align:'center', verticalAlign:'middle', textAlign:'center', textVerticalAlign:'middle'}},
    {type:'line', shape:{x1:TABLE.left, y1:TABLE.top, x2:GRID.left, y2:TABLE.top}, style:{stroke:'#000', lineWidth:3}},
    {type:'line', shape:{x1:TABLE.left, y1:TABLE.mid, x2:W-GRID.right, y2:TABLE.mid}, style:{stroke:'#000', lineWidth:3}},
    {type:'line', shape:{x1:TABLE.left, y1:TABLE.top, x2:TABLE.left, y2:TABLE.bottom}, style:{stroke:'#000', lineWidth:2.5}},
    {type:'line', shape:{x1:GRID.left, y1:TABLE.top, x2:GRID.left, y2:TABLE.bottom}, style:{stroke:'#000', lineWidth:2.5}},
    {type:'line', shape:{x1:W-GRID.right, y1:TABLE.top, x2:W-GRID.right, y2:TABLE.bottom}, style:{stroke:'#000', lineWidth:2.5}},
    {type:'text', x:(TABLE.left+GRID.left)/2, y:1296, style:{text:rowLabels[0], fill:'#000', font:'38px '+FONT, align:'center', verticalAlign:'middle', textAlign:'center', textVerticalAlign:'middle'}},
    {type:'text', x:(TABLE.left+GRID.left)/2, y:1437, style:{text:rowLabels[1], fill:'#000', font:'38px '+FONT, align:'center', verticalAlign:'middle', textAlign:'center', textVerticalAlign:'middle'}}
  ]
};
chart.setOption(option);
</script></body></html>
